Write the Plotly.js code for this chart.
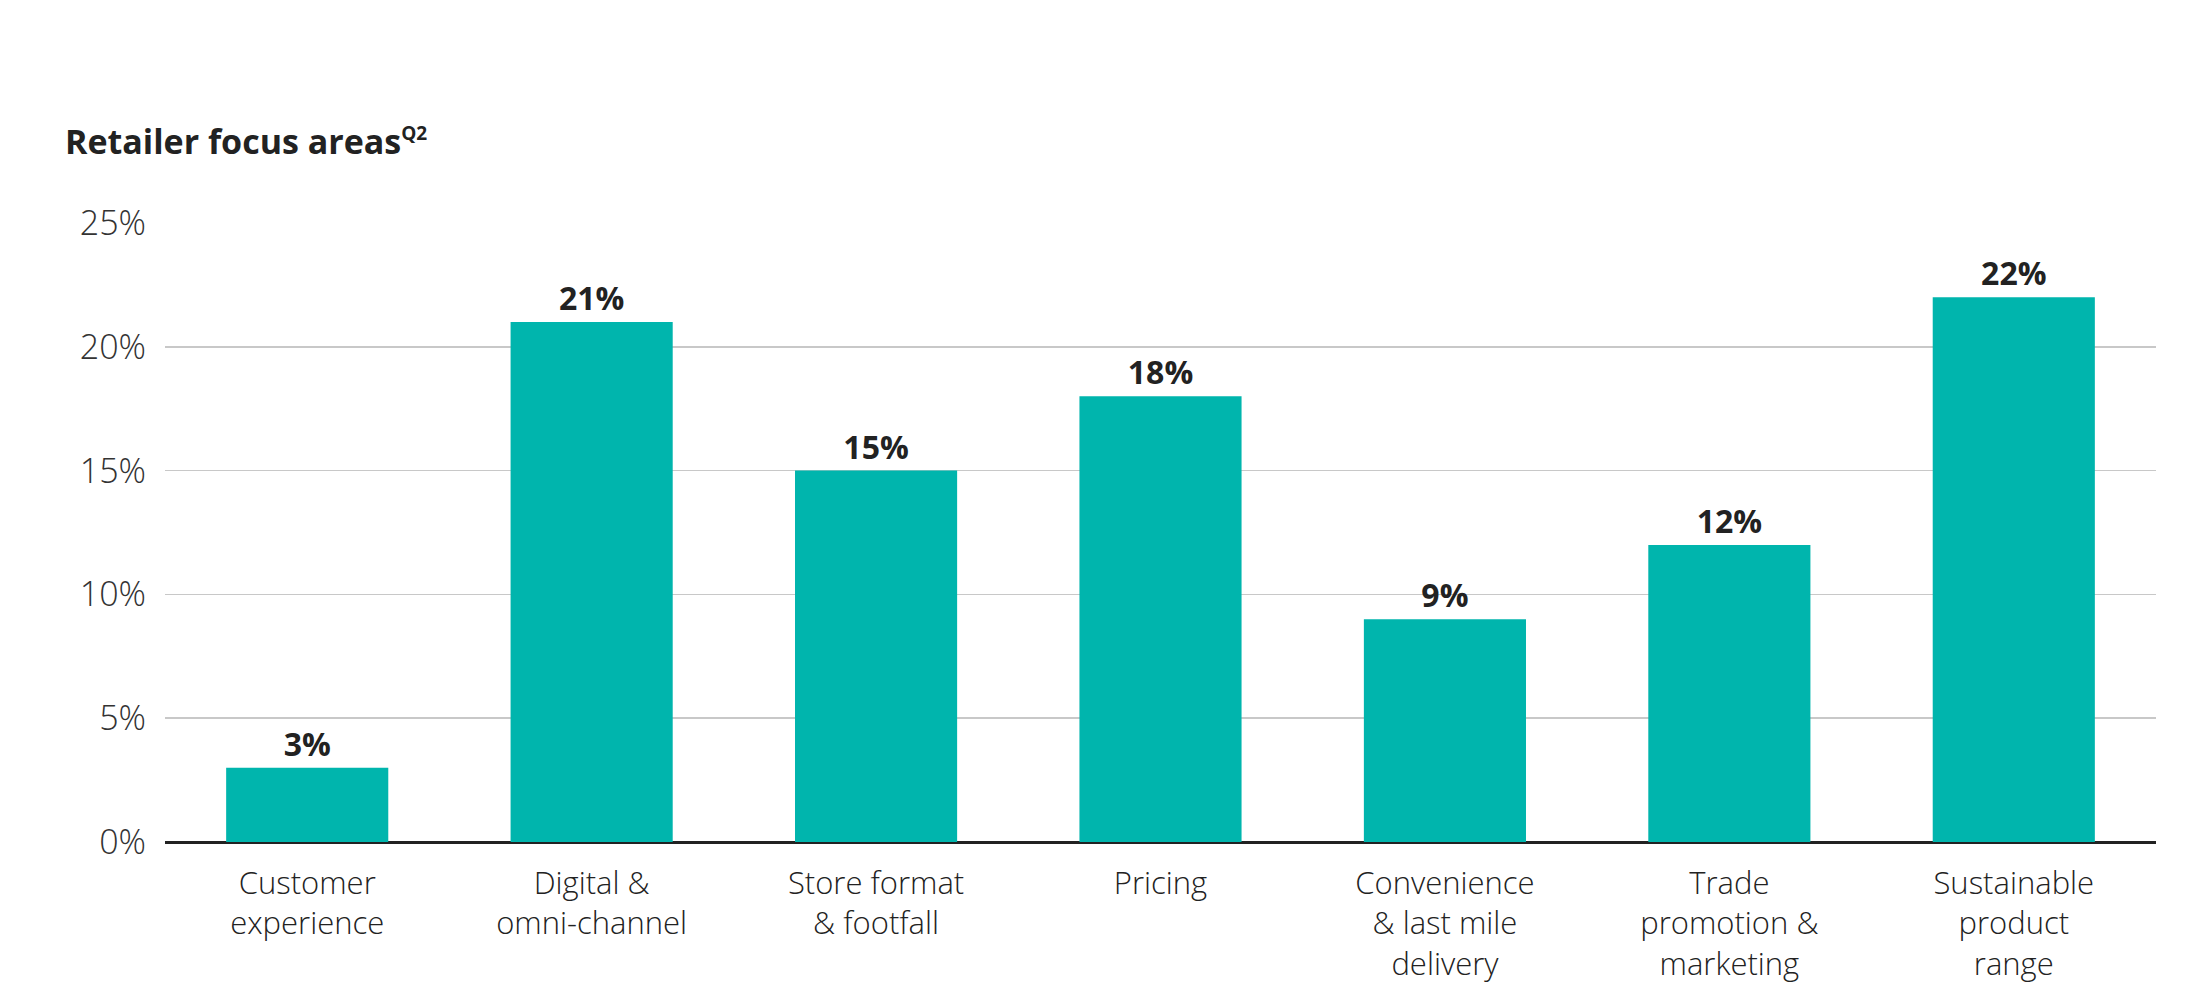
<!DOCTYPE html>
<html>
<head>
<meta charset="utf-8">
<script src="https://cdn.plot.ly/plotly-3.0.1.min.js"></script>
<style>
  html, body { margin: 0; padding: 0; background: #fff; }
  #chart { width: 2200px; height: 1001px; }
</style>
</head>
<body>
<div id="chart"></div>
<script>
// Chart data
const categories = [
  'Customer<br>experience',
  'Digital &<br>omni-channel',
  'Store format<br>& footfall',
  'Pricing',
  'Convenience<br>& last mile<br>delivery',
  'Trade<br>promotion &<br>marketing',
  'Sustainable<br>product<br>range'
];
const shares = [3, 21, 15, 18, 9, 12, 22];
const tickVals = [0, 5, 10, 15, 20, 25];
const tickText = ['0%', '5%', '10%', '15%', '20%', '25%'];

const barColor = '#00b5ad';
const textColor = '#222';
const fontFamily = 'Open Sans, sans-serif';

const trace = {
  type: 'bar',
  x: categories,
  y: shares,
  marker: { color: barColor },
  text: shares.map(v => v + '%'),
  textposition: 'outside',
  cliponaxis: false,
  textfont: { family: fontFamily, size: 32, weight: 700, color: textColor },
  hoverinfo: 'skip'
};

const layout = {
  width: 2200,
  height: 1001,
  paper_bgcolor: '#fff',
  plot_bgcolor: '#fff',
  showlegend: false,
  bargap: 0.43,
  margin: { t: 223, b: 159, l: 165, r: 44 },
  font: { family: fontFamily, color: textColor },
  title: {
    text: 'Retailer focus areas<sup><span style="font-size:19px">Q2</span></sup>',
    x: 65 / 2200, xref: 'container', xanchor: 'left',
    y: 1 - 142 / 1001, yref: 'container', yanchor: 'middle',
    font: { family: fontFamily, size: 34, weight: 700, color: textColor }
  },
  xaxis: {
    type: 'category',
    showgrid: false,
    zeroline: false,
    showline: false,
    ticks: '',
    ticklabelstandoff: 20,
    tickfont: { family: fontFamily, size: 31, weight: 300, color: textColor },
    tickangle: 0
  },
  yaxis: {
    range: [0, 25],
    tickvals: tickVals,
    ticktext: tickText,
    showgrid: true,
    gridcolor: '#c8c8c8',
    gridwidth: 1.5,
    zeroline: true,
    zerolinecolor: '#222',
    zerolinewidth: 3,
    showline: false,
    ticks: '',
    ticklabelstandoff: 18,
    tickfont: { family: fontFamily, size: 34, weight: 300, color: '#333' }
  }
};

Plotly.newPlot('chart', [trace], layout, { displayModeBar: false, staticPlot: true });
</script>
</body>
</html>
